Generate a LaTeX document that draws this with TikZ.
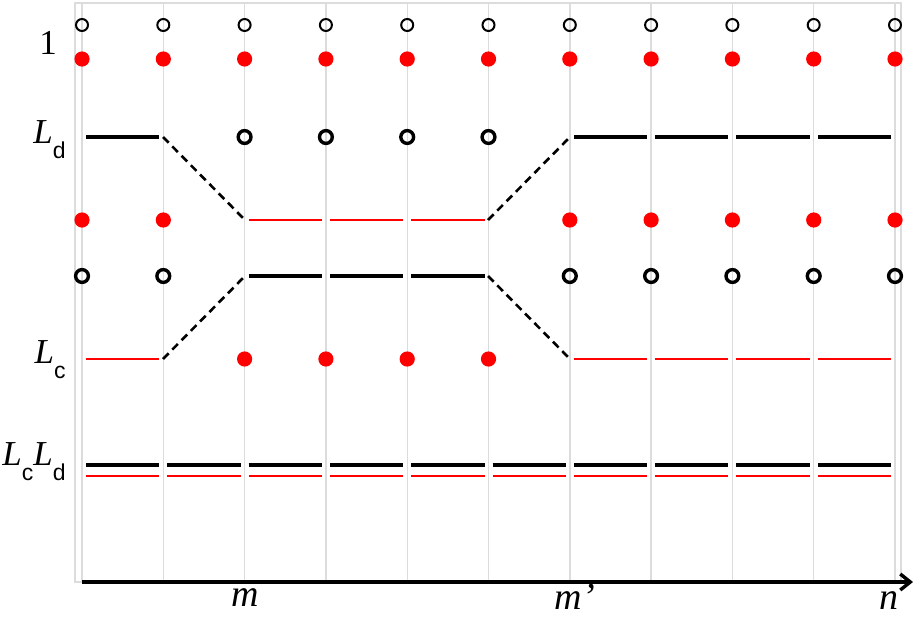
\documentclass[tikz,border=0pt]{standalone}
\usepackage{fontspec}
\setmainfont{Liberation Serif}
\newfontfamily\subfont{Liberation Sans}
\usepackage{tikz}
\usetikzlibrary{arrows.meta}
\definecolor{lcred}{HTML}{FF0000}
\definecolor{gridgray}{HTML}{DCDCDC}
\newcommand{\lsub}[1]{\textit{L}\raisebox{-7.5pt}{\subfont\fontsize{11.5}{12}\selectfont #1}}

\begin{document}
\begin{tikzpicture}[x=0.5pt,y=-0.5pt,
  gridline/.style={gridgray,line width=0.7pt},
  blackseg/.style={black,line width=1.85pt},
  redseg/.style={lcred,line width=1.05pt},
  dashseg/.style={black,line width=1.3pt,dash pattern=on 4pt off 2.6pt},
  thinring/.style={black,line width=1pt},
  thickring/.style={black,line width=1.7pt},
  axis/.style={black,line width=1.7pt,-{Straight Barb[length=5pt,width=8pt]}},
  lab/.style={inner sep=0pt,font=\fontsize{17.5}{19}\selectfont},
  axlab/.style={inner sep=0pt,font=\fontsize{19}{21}\selectfont}]
  \useasboundingbox (0,0) rectangle (914,616);
  % frame and columns
  \draw[gridline] (75,3) rectangle (901,582);
  \foreach \i in {0,...,10}
    \draw[gridline] ({82+81.3*\i},3) -- ({82+81.3*\i},582);
  % top two rows
  \foreach \i in {0,...,10} {
    \draw[thinring] ({82+81.3*\i},25) circle[radius=3pt];
    \fill[lcred] ({82+81.3*\i},59) circle[radius=3.8pt];
  }
  % L_d row
  \draw[blackseg] (86,137) -- (159,137);
  \draw[dashseg] (163,137) -- (245,220);
  \foreach \i in {2,...,5}
    \draw[thickring] ({82+81.3*\i},137) circle[radius=3.2pt];
  \draw[dashseg] (488,220) -- (570,137);
  \foreach \i in {6,...,9}
    \draw[blackseg] ({86+81.3*\i},137) -- ({159.3+81.3*\i},137);
  % middle rows
  \foreach \i in {0,1,6,7,8,9,10} {
    \fill[lcred] ({82+81.3*\i},220) circle[radius=3.8pt];
    \draw[thickring] ({82+81.3*\i},276) circle[radius=3.2pt];
  }
  \foreach \i in {2,3,4} {
    \draw[redseg] ({86+81.3*\i},220) -- ({159.3+81.3*\i},220);
    \draw[blackseg] ({86+81.3*\i},276) -- ({159.3+81.3*\i},276);
  }
  % L_c row
  \draw[redseg] (86,359) -- (159,359);
  \draw[dashseg] (163,359) -- (245,276);
  \foreach \i in {2,...,5}
    \fill[lcred] ({82+81.3*\i},359) circle[radius=3.8pt];
  \draw[dashseg] (488,276) -- (570,359);
  \foreach \i in {6,...,9}
    \draw[redseg] ({86+81.3*\i},359) -- ({159.3+81.3*\i},359);
  % product row
  \foreach \i in {0,...,9} {
    \draw[blackseg] ({86+81.3*\i},465) -- ({159.3+81.3*\i},465);
    \draw[redseg] ({86+81.3*\i},476) -- ({159.3+81.3*\i},476);
  }
  % axis
  \draw[axis] (82,582) -- (913,582);
  \node[axlab,anchor=base] (m) at (245,606) {\textit{m}};
  \node[axlab,anchor=base] (mp) at (575,609) {\textit{m’}};
  \node[axlab,anchor=base] (n) at (889,609) {\textit{n}};
  % row labels
  \node[lab,anchor=base] (one) at (48,54) {1};
  \node[lab,anchor=base east] (ld) at (66,143) {\lsub{d}};
  \node[lab,anchor=base east] (lc) at (66,363) {\lsub{c}};
  \node[lab,anchor=base east] (lcld) at (66,465) {\lsub{c}\lsub{d}};
\end{tikzpicture}
\end{document}
